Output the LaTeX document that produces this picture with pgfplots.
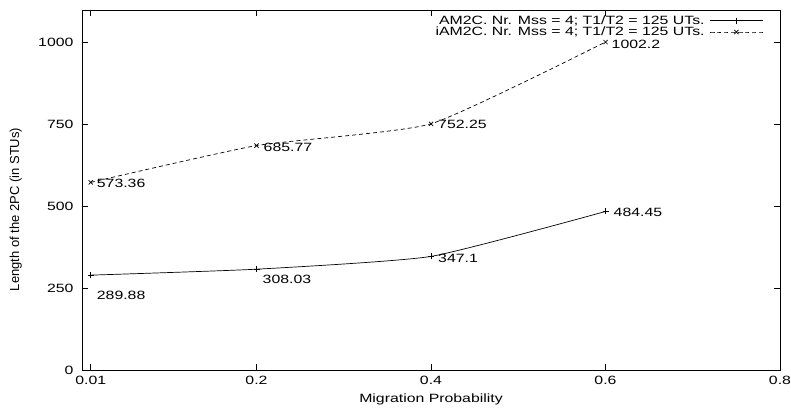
\documentclass[border=0pt]{standalone}
\usepackage{fontspec}
\setmainfont{Liberation Sans}[FakeStretch=1.32]
\newfontfamily\ylfont{Liberation Sans}
\usepackage{pgfplots}
\pgfplotsset{compat=1.18}

\newcommand{\lblfont}{\fontsize{12}{13.5}\selectfont}

\begin{document}
\begin{tikzpicture}
\begin{axis}[
  width=698pt, height=360pt, scale only axis,
  xmin=0, xmax=0.8, ymin=0, ymax=1100,
  xtick={0.01,0.2,0.4,0.6,0.8},
  xticklabels={0.01,0.2,0.4,0.6,0.8},
  ytick={0,250,500,750,1000},
  yticklabels={0,250,500,750,1000},
  tick align=inside, major tick length=6pt,
  axis line style={line width=0.7pt},
  every tick/.style={line width=0.7pt, black},
  tick label style={font=\lblfont},
  yticklabel style={xshift=-5pt},
  xticklabel style={yshift=-3pt},
  xlabel={Migration Probability},
  ylabel={\ylfont\fontsize{13}{15}\selectfont Length of the 2PC (in STUs)},
  xlabel style={font=\lblfont, at={(axis description cs:0.5,-0.082)}, anchor=center},
  ylabel style={at={(axis description cs:-0.095,0.446)}, anchor=center},
  legend style={at={(1,1)}, anchor=north east, xshift=-17pt, yshift=-5pt,
    draw=none, fill=none, inner sep=0pt, row sep=0pt, column sep=5pt,
    font=\lblfont, nodes={inner sep=0.5pt}},
  legend cell align=right,
  legend plot pos=right,
  legend image code/.code={
    \draw[mark repeat=2, mark phase=2, #1]
      plot coordinates {(0pt,0pt) (26pt,0pt) (52pt,0pt)};
  },
]
\addplot[black, line width=0.7pt, smooth, tension=0.3, mark=+, mark size=3pt,
  mark options={solid}]
  coordinates {(0.01,289.88) (0.2,308.03) (0.4,347.1) (0.6,484.45)};
\addlegendentry{AM2C. Nr. Mss = 4; T1/T2 = 125 UTs.}
\addplot[black, line width=0.7pt, smooth, tension=0.3, dash pattern=on 4pt off 3pt,
  mark=x, mark size=3pt, mark options={solid}]
  coordinates {(0.01,573.36) (0.2,685.77) (0.4,752.25) (0.6,1002.2)};
\addlegendentry{iAM2C. Nr. Mss = 4; T1/T2 = 125 UTs.}

\begin{scope}[every node/.style={font=\lblfont, anchor=west, inner sep=0pt}]
\node[xshift=6pt, yshift=-20pt] at (axis cs:0.01,289.88) {289.88};
\node[xshift=6pt, yshift=-10pt] at (axis cs:0.2,308.03) {308.03};
\node[xshift=7pt, yshift=-2pt] at (axis cs:0.4,347.1) {347.1};
\node[xshift=8pt, yshift=-1pt] at (axis cs:0.6,484.45) {484.45};
\node[xshift=6pt, yshift=-1pt] at (axis cs:0.01,573.36) {573.36};
\node[xshift=7pt, yshift=-2pt] at (axis cs:0.2,685.77) {685.77};
\node[xshift=7pt, yshift=-1pt] at (axis cs:0.4,752.25) {752.25};
\node[xshift=6pt, yshift=-2pt] at (axis cs:0.6,1002.2) {1002.2};
\end{scope}
\end{axis}
\pgfresetboundingbox
\path (current axis.south west) ++(-82pt,-40pt) coordinate (bl);
\path (current axis.north east) ++(11pt,10pt) coordinate (tr);
\path (bl) rectangle (tr);
\end{tikzpicture}
\end{document}
